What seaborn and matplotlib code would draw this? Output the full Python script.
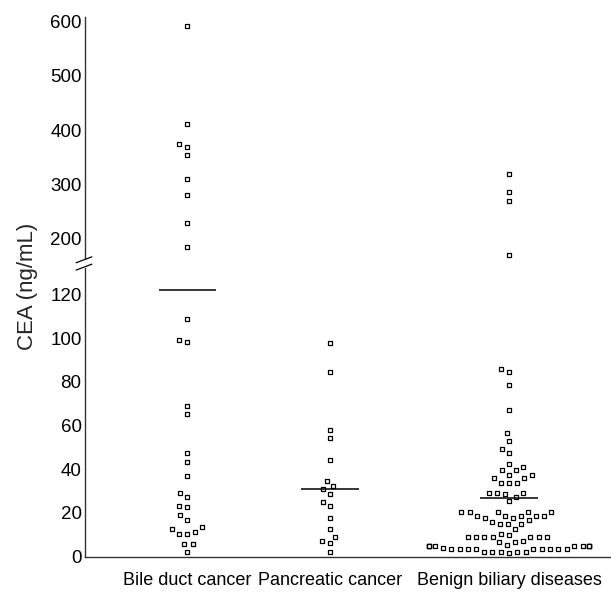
import numpy as np
import pandas as pd
import matplotlib
matplotlib.use("Agg")
import matplotlib.pyplot as plt
import seaborn as sns

# ---------------------------
# Data
# ---------------------------

groups = ["Bile duct cancer", "Pancreatic cancer", "Benign biliary diseases"]

bile_cea = [593, 412, 374, 369, 354, 309, 280, 229, 184,
            108.5, 99.2, 98, 69, 65.2, 47.5, 43.4, 36.8, 29.2, 27.1,
            23.1, 22.7, 18.9, 16.8, 13.4, 12.5, 11.3, 10.5, 10.5,
            5.7, 5.9, 2.3]

pancreatic_cea = [97.9, 84.5, 57.9, 54.1, 44.2, 34.7, 32.3, 30.8, 28.9,
                  25.1, 23.2, 17.5, 12.6, 9.1, 7.3, 6.1, 2.3]

benign_cea = [318, 285, 269, 170,
              85.7, 84.5, 78.4, 67.1, 56.6, 53.1, 49.2, 47.4, 42.6, 41.1,
              39.6, 39.6, 37.4, 37.4, 35.9, 35.9, 33.9, 33.9, 33.6,
              29.3, 29.3, 29.3, 28.5, 27.5, 25.3,
              20.3, 20.3, 20.3, 20.3, 20.3, 18.5, 18.5, 18.5, 18.5, 18.5,
              17.9, 17.7, 16.6, 16.0, 14.8, 14.8, 14.8, 12.6, 10.3, 10.0,
              8.8, 8.8, 8.8, 8.8, 8.8, 8.8, 8.8, 7.3, 6.5, 6.5,
              5.3, 5.0, 5.0, 5.0, 5.0, 5.0, 5.0, 5.0, 5.0, 5.0, 5.0, 5.0,
              3.8, 3.5, 3.5, 3.5, 3.5, 3.5, 3.5, 3.5, 3.5, 3.5,
              2.3, 2.3, 2.3, 2.3, 2.3, 1.8]

group_means = [121.8, 30.8, 26.9]

y_ticks = [0, 20, 40, 60, 80, 100, 120, 200, 300, 400, 500, 600]

# ---------------------------
# Layout
# ---------------------------

x_pos = [1.0, 1.71, 2.6]
half_line = 0.142
marker_side = 2.8      # pt
collide_side = 4.8     # pt, spacing used by the swarm
lower_top, upper_start, upper_slope = 133, 150, 0.2475


def fwd(v):
    xp = [-1e4, lower_top, upper_start, 1e4]
    fp = [-1e4, lower_top, lower_top + 0.2, lower_top + 0.2 + (1e4 - upper_start) * upper_slope]
    return np.interp(v, xp, fp)


def inv(y):
    xp = [-1e4, lower_top, upper_start, 1e4]
    fp = [-1e4, lower_top, lower_top + 0.2, lower_top + 0.2 + (1e4 - upper_start) * upper_slope]
    return np.interp(y, fp, xp)


sns.set_style("white")
plt.rcParams["font.family"] = ["Liberation Sans", "DejaVu Sans"]

fig = plt.figure(figsize=(6.11, 5.92), dpi=100)
ax = fig.add_axes([85 / 611, 35.3 / 592, 526 / 611, 539.7 / 592])
ax.set_yscale("function", functions=(fwd, inv))

values = [bile_cea, pancreatic_cea, benign_cea]
for pos, vals in zip(x_pos, values):
    df = pd.DataFrame({"x": [pos] * len(vals), "cea": vals})
    sns.swarmplot(data=df, x="x", y="cea", orient="x", native_scale=True,
                  marker="s", color="white", edgecolor="black",
                  linewidth=0.9, size=collide_side, ax=ax, warn_thresh=1)

ax.set_xlim(0.492, 3.107)
ax.set_ylim(0, 609)

# run the swarm layout once with the wider spacing, then shrink markers
fig.canvas.draw()
for coll in ax.collections:
    if "draw" in coll.__dict__:
        del coll.draw
    coll.set_sizes([marker_side ** 2])

ax.hlines(group_means, [p - half_line for p in x_pos],
          [p + half_line for p in x_pos], color="black", lw=1.1, zorder=5)

ax.set_yticks(y_ticks, [str(t) for t in y_ticks])
ax.set_xticks(x_pos, groups)
ax.tick_params(axis="y", direction="in", length=4.5, width=0.9,
               labelsize=13.5, pad=2.5, colors="black")
ax.tick_params(axis="x", length=0, labelsize=13, pad=11, colors="black")
ax.set_xlabel("")
ax.set_ylabel("CEA (ng/mL)", fontsize=16, labelpad=9)

for side in ["top", "right"]:
    ax.spines[side].set_visible(False)
for side in ["left", "bottom"]:
    ax.spines[side].set_color("#333333")
    ax.spines[side].set_linewidth(1.0)

# axis break marks
brk = 0.5433
ax.plot([0, 0], [brk - 0.004, brk + 0.004], transform=ax.transAxes,
        color="white", lw=3, clip_on=False, zorder=6)
for off in (-0.0068, 0.0068):
    ax.plot([-0.017, 0.013], [brk + off - 0.0055, brk + off + 0.0055],
            transform=ax.transAxes, color="black", lw=0.9,
            clip_on=False, zorder=7)

fig.savefig("out.png", dpi=100)
